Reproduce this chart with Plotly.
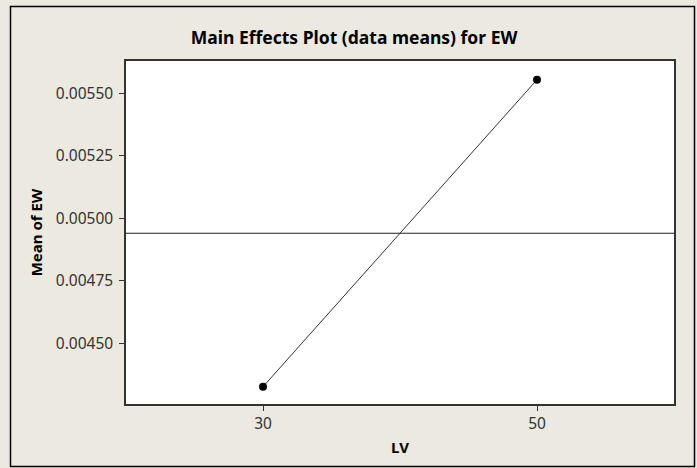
import plotly.graph_objects as go

levels = [30, 50]
means = [0.004325, 0.005555]
y_ticks = [0.0045, 0.00475, 0.005, 0.00525, 0.0055]
y_tick_labels = ["0.00450", "0.00475", "0.00500", "0.00525", "0.00550"]
x_ticks = [30, 50]
x_tick_labels = ["30", "50"]

grand_mean = sum(means) / len(means)

W, H = 697, 468
ml, mr, mt, mb = 126, 23, 61, 64

fig = go.Figure()
fig.add_trace(go.Scatter(
    x=levels, y=means, mode="lines+markers",
    line=dict(color="#333333", width=1),
    marker=dict(color="black", size=8, symbol="circle"),
    showlegend=False, hoverinfo="skip",
))
fig.add_shape(type="line", xref="paper", yref="y", x0=0, x1=1,
              y0=grand_mean, y1=grand_mean,
              line=dict(color="#222222", width=1))

pw = W - ml - mr
ph = H - mt - mb
def px2paper_x(px):
    return (px - ml) / pw
def px2paper_y(py):
    return (H - mb - py) / ph

# outer frame around whole image
fig.add_shape(type="rect", xref="paper", yref="paper",
              x0=px2paper_x(10.5), x1=px2paper_x(694.5),
              y0=px2paper_y(466.5), y1=px2paper_y(6.5),
              line=dict(color="black", width=1.5), layer="below")

font_fam = "Noto Sans"
fig.update_layout(
    width=W, height=H,
    margin=dict(l=ml, r=mr, t=mt, b=mb),
    paper_bgcolor="#ECE9E0",
    plot_bgcolor="white",
    font=dict(family=font_fam, color="#333333", size=14),
    title=dict(text="<b>Main Effects Plot (data means) for EW</b>",
               x=0.508, xanchor="center", y=1 - 38 / H, yanchor="middle",
               font=dict(family=font_fam, size=17.5, color="black")),
    xaxis=dict(range=[20, 60], tickvals=x_ticks, ticktext=x_tick_labels,
               ticks="outside", ticklen=5, tickcolor="#333333",
               showgrid=False, zeroline=False,
               showline=True, linecolor="#333333", linewidth=1.5, mirror=True,
               tickfont=dict(size=15.5, color="#333333"),
               title=dict(text="<b>LV</b>", standoff=9,
                          font=dict(size=15, color="black"))),
    yaxis=dict(range=[0.004256, 0.00563], tickvals=y_ticks, ticktext=y_tick_labels,
               ticks="outside", ticklen=5, tickcolor="#333333",
               showgrid=False, zeroline=False, ticklabelstandoff=3,
               showline=True, linecolor="#333333", linewidth=1.5, mirror=True,
               tickfont=dict(size=15.5, color="#333333"),
               title=dict(text="<b>Mean of EW</b>", standoff=10,
                          font=dict(size=15, color="black"))),
)

fig.write_html("out.html")
